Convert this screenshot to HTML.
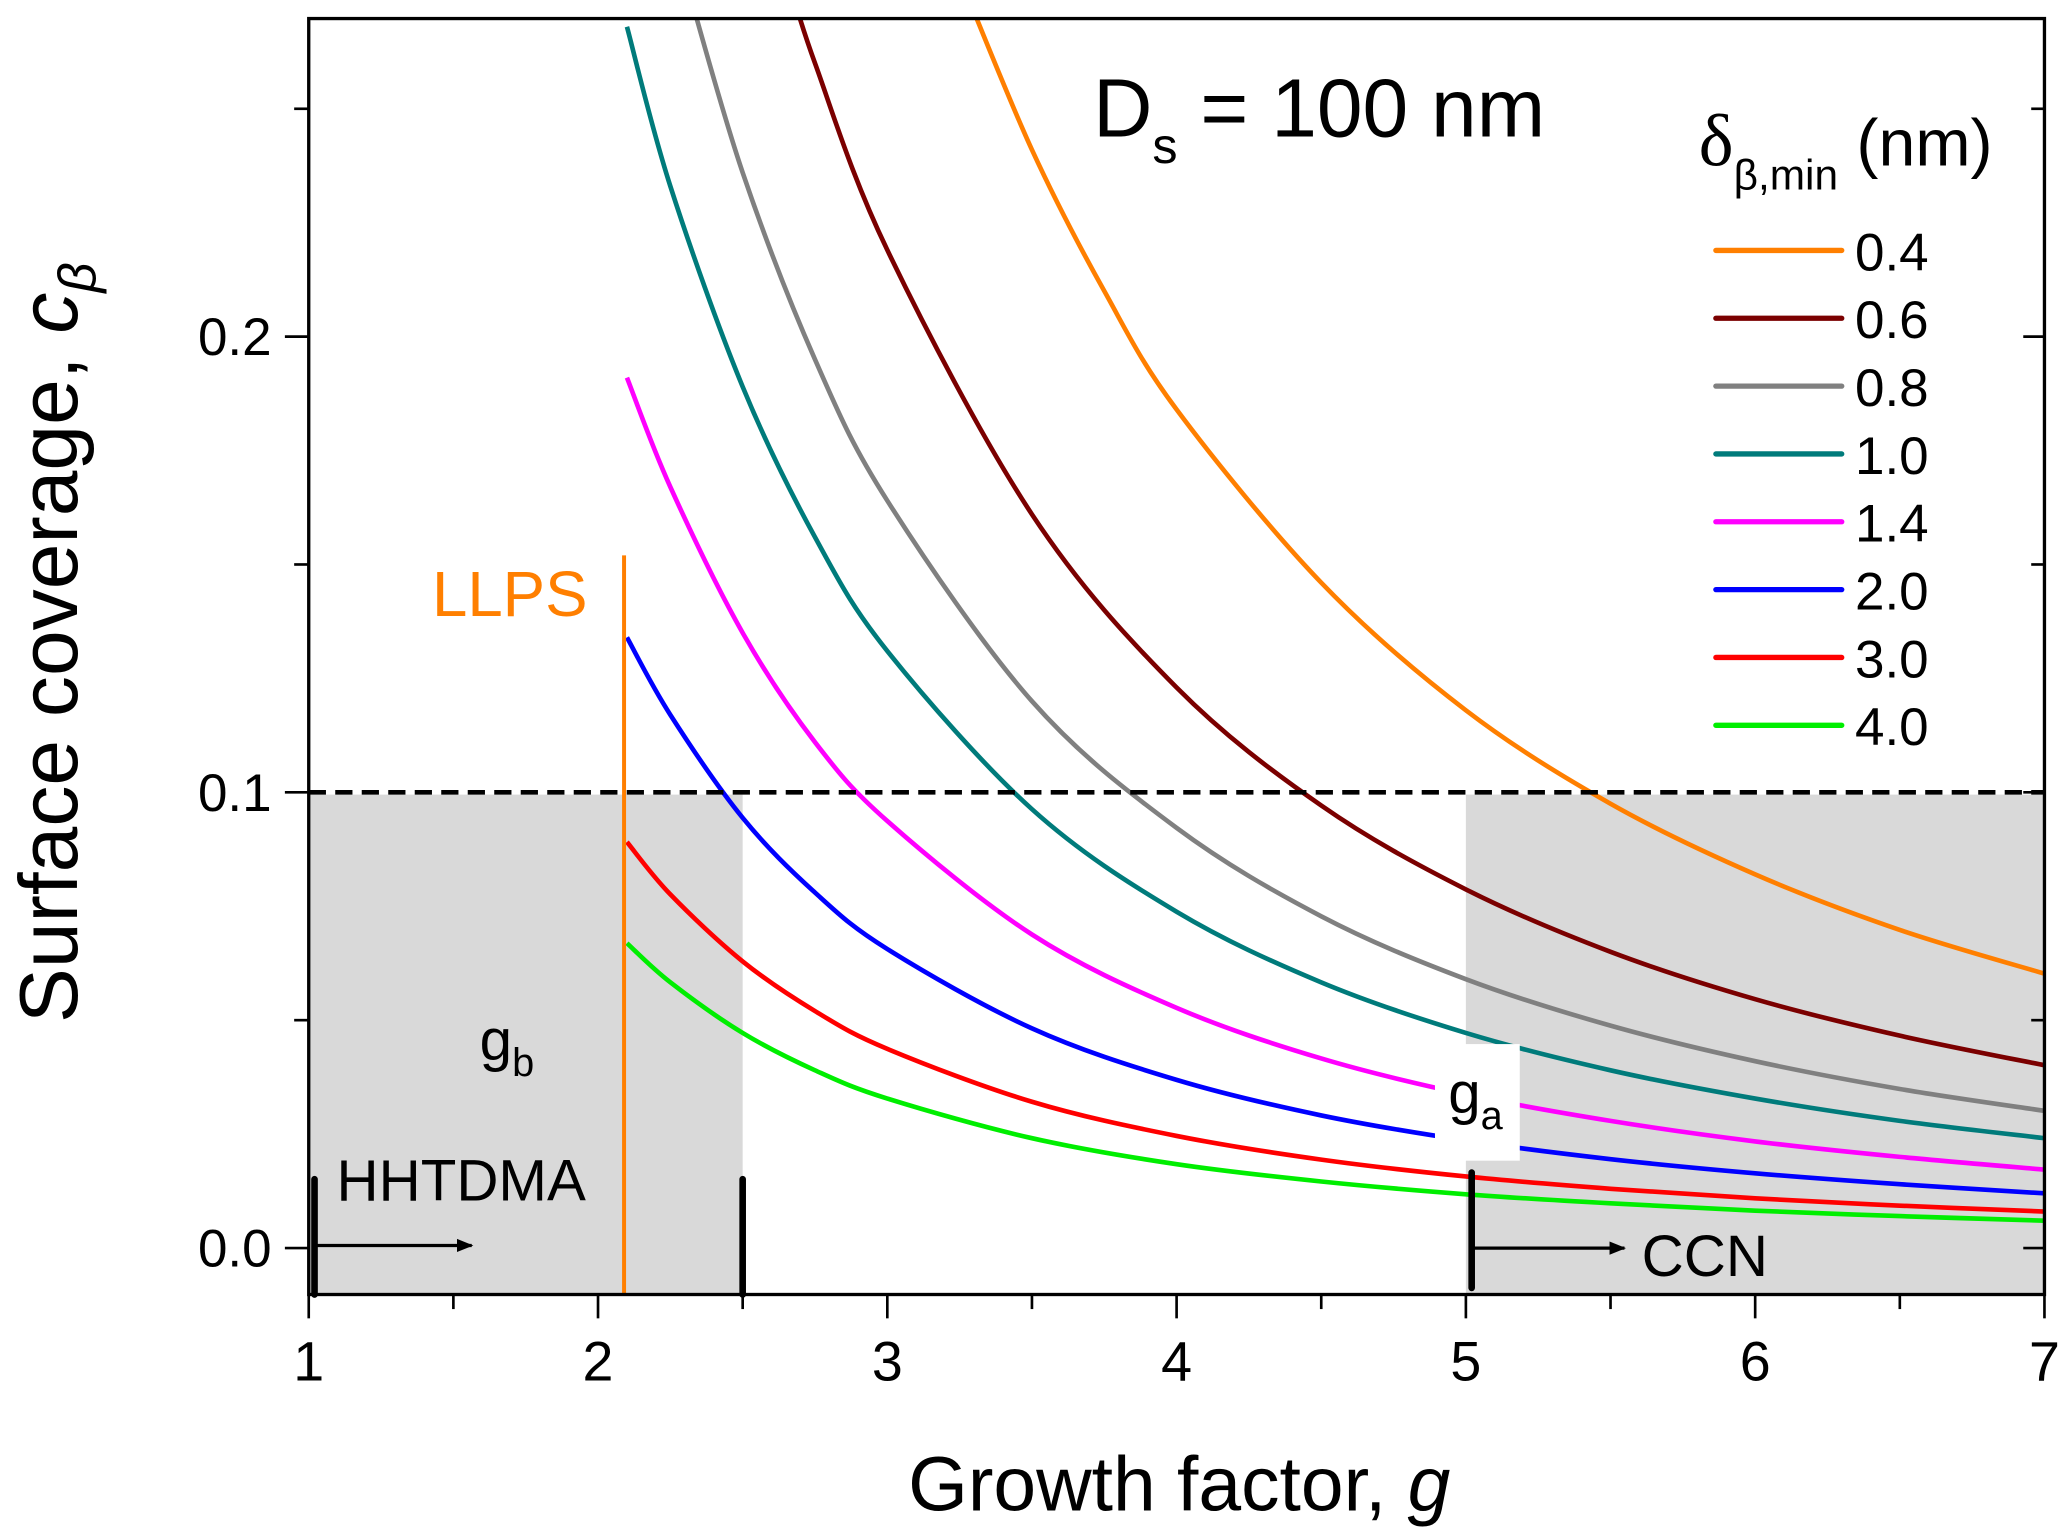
<!DOCTYPE html>
<html><head><meta charset="utf-8"><style>
html,body{margin:0;padding:0;background:#fff}
svg{display:block}
text{font-family:"Liberation Sans",sans-serif}
</style></head><body>
<svg id="chart" width="2067" height="1533" viewBox="0 0 1560 1157" xmlns="http://www.w3.org/2000/svg">
<defs>
<clipPath id="plotclip"><rect x="233" y="14" width="1310" height="963"/></clipPath>
<marker id="arr" viewBox="0 0 10 10" refX="9" refY="5" markerWidth="5" markerHeight="5" orient="auto"><path d="M0,1 L10,5 L0,9 z" fill="#000"/></marker>
</defs>
<g id="bg"></g>
<g id="series" clip-path="url(#plotclip)"></g>
<g id="fg"></g>
</svg>
<script>
const categories = [0.4, 0.6, 0.8, 1.0, 1.4, 2.0, 3.0, 4.0];
const colors = ["#ff7f00","#7b0000","#808080","#007b7b","#ff00ff","#0000ff","#ff0000","#00ee00"];
const gOrange = [3.25,3.5,3.75,4,4.5,5,5.5,6,6.5,7];
const cOrange = [0.279,0.241,0.210,0.184,0.146,0.118,0.0975,0.082,0.0698,0.0602];
const gMaroon = [2.65,2.75,3,3.5,4,4.5,5,5.5,6,6.5,7];
const cMaroon = [0.280,0.260,0.219,0.161,0.123,0.0971,0.0787,0.065,0.0546,0.0466,0.0401];
const gGray = [2.3,2.5,2.75,3,3.5,4,4.5,5,5.5,6,6.5,7];
const cGray = [0.279,0.236,0.195,0.164,0.120,0.0922,0.0728,0.059,0.0488,0.041,0.0349,0.0301];
const gLow = [2.1,2.25,2.5,2.75,3,3.5,4,4.5,5,5.5,6,6.5,7];
const cTeal = [0.268,0.233,0.189,0.156,0.131,0.0963,0.0738,0.0583,0.0472,0.039,0.0328,0.0279,0.0241];
const cMagenta = [0.191,0.167,0.135,0.111,0.0937,0.0688,0.0527,0.0416,0.0337,0.0279,0.0234,0.02,0.0172];
const cBlue = [0.134,0.117,0.0944,0.078,0.0656,0.0482,0.0369,0.0291,0.0236,0.0195,0.0164,0.014,0.012];
const cRed = [0.0891,0.0776,0.0629,0.052,0.0437,0.0321,0.0246,0.0194,0.0157,0.013,0.0109,0.0093,0.008];
const cGreen = [0.0669,0.0583,0.0472,0.039,0.0328,0.0241,0.0184,0.0146,0.0118,0.0098,0.0082,0.007,0.006];
const xTicks = [1,2,3,4,5,6,7];
const yTicks = [0.0,0.1,0.2];
const yTickLabels = ["0.0","0.1","0.2"];

const NS="http://www.w3.org/2000/svg";
const X0=233,X1=1543,Y0=977,Y1=14;
const xmin=1,xmax=7,ymin=-0.0102,ymax=0.2698;
function sx(v){return X0+(v-xmin)/(xmax-xmin)*(X1-X0);}
function sy(v){return Y0-(v-ymin)/(ymax-ymin)*(Y0-Y1);}
function mk(tag,attrs,parent,txt){const e=document.createElementNS(NS,tag);for(const k in attrs)e.setAttribute(k,attrs[k]);if(txt!==undefined)e.textContent=txt;parent.appendChild(e);return e;}
const bg=document.getElementById('bg'),ser=document.getElementById('series'),fg=document.getElementById('fg');

let r1=mk('rect',{x:sx(1),y:sy(0.0995),width:sx(2.5)-sx(1),height:Y0-sy(0.0995),fill:"#d9d9d9"},bg);


let r2=mk('rect',{x:sx(5),y:sy(0.0995),width:X1-sx(5),height:Y0-sy(0.0995),fill:"#d9d9d9"},bg);



function smooth(pts){
  let d="M"+pts[0][0].toFixed(2)+","+pts[0][1].toFixed(2);
  for(let i=0;i<pts.length-1;i++){
    const p0=pts[i-1]||pts[i],p1=pts[i],p2=pts[i+1],p3=pts[i+2]||p2;
    const c1=[p1[0]+(p2[0]-p0[0])/6,p1[1]+(p2[1]-p0[1])/6];
    const c2=[p2[0]-(p3[0]-p1[0])/6,p2[1]-(p3[1]-p1[1])/6];
    d+=" C"+c1[0].toFixed(2)+","+c1[1].toFixed(2)+" "+c2[0].toFixed(2)+","+c2[1].toFixed(2)+" "+p2[0].toFixed(2)+","+p2[1].toFixed(2);
  }
  return d;
}
const seriesList=[[gOrange,cOrange],[gMaroon,cMaroon],[gGray,cGray],[gLow,cTeal],[gLow,cMagenta],[gLow,cBlue],[gLow,cRed],[gLow,cGreen]];
seriesList.forEach((s,i)=>{
  const pts=s[0].map((g,j)=>[sx(g),sy(s[1][j])]);
  const p=mk('path',{d:smooth(pts),fill:"none",stroke:colors[i],"stroke-width":3.5},ser);
  
  
});

let wb=mk('rect',{x:1083,y:788,width:64,height:88,fill:"#fff"},fg);



let dl=mk('line',{x1:X0,x2:X1,y1:sy(0.1),y2:sy(0.1),stroke:"#000","stroke-width":3.5,"stroke-dasharray":"13,7"},fg);



let ll=mk('line',{x1:sx(2.09),x2:sx(2.09),y1:sy(0.152),y2:Y0,stroke:"#ff7f00","stroke-width":3},fg);



[[1.02,890,977],[2.5,890,977],[5.02,885,972]].forEach((m,i)=>{
  let e=mk('line',{x1:sx(m[0]),x2:sx(m[0]),y1:m[1],y2:m[2],stroke:"#000","stroke-width":5,"stroke-linecap":"round"},fg);
  
  
});
let a1=mk('line',{x1:238,x2:356,y1:940,y2:940,stroke:"#000","stroke-width":2.5,"marker-end":"url(#arr)"},fg);


let a2=mk('line',{x1:1110,x2:1226,y1:942,y2:942,stroke:"#000","stroke-width":2.5,"marker-end":"url(#arr)"},fg);



let fr=mk('rect',{x:X0,y:Y1,width:X1-X0,height:Y0-Y1,fill:"none",stroke:"#000","stroke-width":2.5},fg);



for(let v=1;v<=7.001;v+=0.5){
  const major=Math.abs(v-Math.round(v))<1e-6;
  let t=mk('line',{x1:sx(v),x2:sx(v),y1:Y0,y2:Y0+(major?18:11),stroke:"#000","stroke-width":2},fg);
  
  
}
xTicks.forEach(v=>{
  let t=mk('text',{x:sx(v),y:1042,"font-size":42,"text-anchor":"middle"},fg,String(v));
  
  
});
for(let k=0;k<=5;k++){
  const v=k*0.05,major=k%2===0;
  let t=mk('line',{x1:X0-(major?18:11),x2:X0,y1:sy(v),y2:sy(v),stroke:"#000","stroke-width":2},fg);
  
  
  let t2=mk('line',{x1:X1-(major?16:10),x2:X1,y1:sy(v),y2:sy(v),stroke:"#000","stroke-width":2},fg);
  
  
}
yTicks.forEach((v,i)=>{
  let t=mk('text',{x:205,y:sy(v)+14,"font-size":40,"text-anchor":"end"},fg,yTickLabels[i]);
  
  
});

let lt=mk('text',{x:1282,y:125,"font-size":50},fg);


mk('tspan',{"font-family":"Liberation Serif, serif","font-size":56},lt,"δ");
mk('tspan',{"font-size":32,dy:18},lt,"β,min");
mk('tspan',{dy:-18},lt," (nm)");
categories.forEach((c,i)=>{
  const y=189+i*51.2;
  let l=mk('line',{x1:1295,x2:1390,y1:y,y2:y,stroke:colors[i],"stroke-width":4,"stroke-linecap":"round"},fg);
  
  
  let t=mk('text',{x:1400,y:y+15,"font-size":40},fg,c.toFixed(1));
  
  
});

let ds=mk('text',{x:825,y:103,"font-size":62},fg);


mk('tspan',{},ds,"D");
mk('tspan',{"font-size":38,dy:20},ds,"s");
mk('tspan',{dy:-20},ds," = 100 nm");
let lp=mk('text',{x:326,y:465,"font-size":48,fill:"#ff7f00"},fg,"LLPS");


let hh=mk('text',{x:254,y:906,"font-size":44},fg,"HHTDMA");


let cc=mk('text',{x:1239,y:963,"font-size":44},fg,"CCN");


let gb=mk('text',{x:362,y:800,"font-size":44},fg);


mk('tspan',{},gb,"g");
mk('tspan',{"font-size":30,dy:12},gb,"b");
let ga=mk('text',{x:1093,y:840,"font-size":44},fg);


mk('tspan',{},ga,"g");
mk('tspan',{"font-size":30,dy:12},ga,"a");

let xt=mk('text',{x:890,y:1140,"font-size":58,"text-anchor":"middle"},fg);


mk('tspan',{},xt,"Growth factor, ");
mk('tspan',{"font-style":"italic"},xt,"g");
let yt=mk('text',{x:0,y:0,"font-size":62,"text-anchor":"middle",transform:"translate(58,485) rotate(-90)"},fg);


mk('tspan',{},yt,"Surface coverage, ");
mk('tspan',{"font-style":"italic"},yt,"c");
mk('tspan',{"font-style":"italic","font-size":40,dy:14},yt,"β");
</script>
</body></html>
